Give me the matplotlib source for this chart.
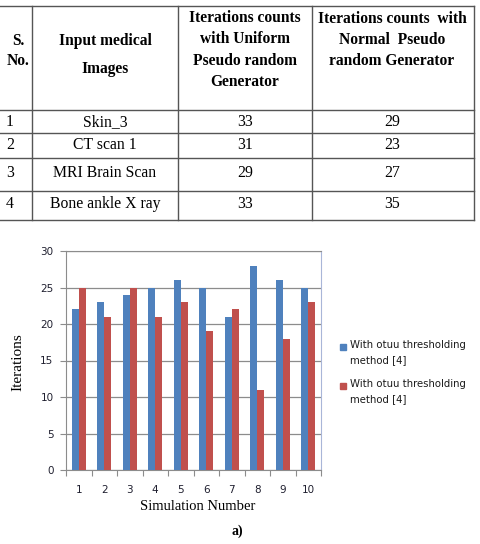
import numpy as np
import matplotlib.pyplot as plt
from matplotlib.patches import Rectangle

# table data
sno = ["1", "2", "3", "4"]
images = ["Skin_3", "CT scan 1", "MRI Brain Scan", "Bone ankle X ray"]
uniform_counts = [33, 31, 29, 33]
normal_counts = [29, 23, 27, 35]
headers = ["S.\nNo.", "Input medical\nImages",
           "Iterations counts\nwith Uniform\nPseudo random\nGenerator",
           "Iterations counts  with\nNormal  Pseudo\nrandom Generator"]

# bar chart data
simulation = np.arange(1, 11)
otsu_a = [22, 23, 24, 25, 26, 25, 21, 28, 26, 25]
otsu_b = [25, 21, 25, 21, 23, 19, 22, 11, 18, 23]
legend_labels = ["With otuu thresholding\nmethod [4]", "With otuu thresholding\nmethod [4]"]

blue = "#4F81BD"
red = "#C0504D"
serif = "Liberation Serif"

fig = plt.figure(figsize=(4.8, 5.44), dpi=100)

# overlay in pixel units for the table and loose text
tab = fig.add_axes([0, 0, 1, 1])
tab.set_xlim(0, 480)
tab.set_ylim(544, 0)
tab.axis("off")

col_x = [0, 32, 178, 312, 474]
row_y = [6, 110, 133, 158, 191, 220]
line_col = "#555555"
for y in row_y:
    tab.plot([0, 474], [y, y], color=line_col, lw=1.0)
for x in col_x[1:]:
    tab.plot([x, x], [row_y[0], row_y[-1]], color=line_col, lw=1.0)

# header cells
hdr_pos = [(18, 51, 1.4), (105, 55, 1.95), (245, 50, 1.45), (392, 40, 1.45)]
for text, (x, y, ls) in zip(headers, hdr_pos):
    tab.text(x, y, text, ha="center", va="center", family=serif,
             fontweight="bold", fontsize=11.2, linespacing=ls)

# body cells
body_y = [122, 145, 173, 204]
for i, y in enumerate(body_y):
    tab.text(6, y, sno[i], ha="left", va="center", family=serif, fontsize=11.3)
    tab.text(105, y, images[i], ha="center", va="center", family=serif, fontsize=11.3)
    tab.text(245, y, str(uniform_counts[i]), ha="center", va="center", family=serif, fontsize=11.3)
    tab.text(392, y, str(normal_counts[i]), ha="center", va="center", family=serif, fontsize=11.3)

# bar chart
ax = fig.add_axes([66 / 480, 74 / 544, 255 / 480, 219 / 544])
w = 0.27
ax.bar(simulation - w / 2, otsu_a, width=w, color=blue, zorder=3)
ax.bar(simulation + w / 2, otsu_b, width=w, color=red, zorder=3)
ax.set_xlim(0.5, 10.5)
ax.set_ylim(0, 30)
ax.set_yticks(range(0, 31, 5))
ax.yaxis.grid(True, color="#8c8c8c", lw=0.9, zorder=0)
ax.set_axisbelow(True)

ax.set_xticks(np.arange(0.5, 11, 1))
ax.set_xticklabels([])
ax.set_xticks(simulation, minor=True)
ax.set_xticklabels([str(s) for s in simulation], minor=True)
ax.tick_params(axis="x", which="major", direction="out", length=4, color="#8c8c8c")
ax.tick_params(axis="x", which="minor", length=0, pad=11, labelsize=7.5, labelcolor="#1f1f2f")
ax.tick_params(axis="y", direction="out", length=4, color="#8c8c8c", pad=5,
               labelsize=7.5, labelcolor="#1f1f2f")

for side in ["left", "bottom", "top"]:
    ax.spines[side].set_color("#8c8c8c")
ax.spines["right"].set_color("#a9b6d8")

# legend drawn by hand so the square lines up with the first text line
leg_y = [347, 386]
for lab, col, y in zip(legend_labels, [blue, red], leg_y):
    tab.add_patch(Rectangle((340, y - 3), 6, 6, color=col))
    tab.text(350, y - 7, lab, ha="left", va="top", fontsize=7.3,
             color="#1a1a1a", linespacing=1.6)

tab.text(18, 362, "Iterations", rotation=90, ha="center", va="center",
         family=serif, fontsize=11)
tab.text(198, 507, "Simulation Number", ha="center", va="center",
         family=serif, fontsize=10.5)
tab.text(237, 531, "a)", ha="center", va="center", family=serif,
         fontweight="bold", fontsize=10)

fig.savefig("out.png", dpi=100)
